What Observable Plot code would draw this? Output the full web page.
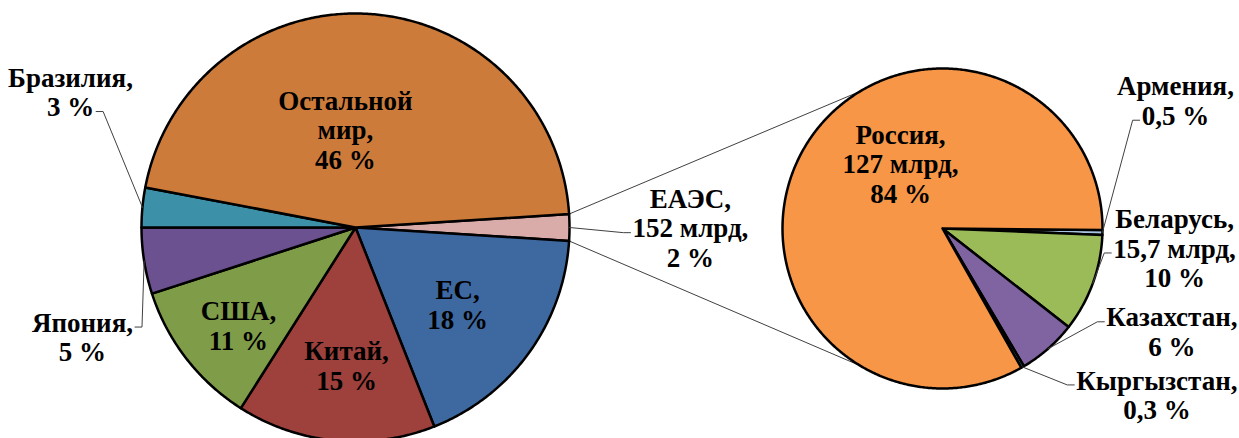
<!DOCTYPE html>
<html><head><meta charset="utf-8">
<script src="https://cdn.jsdelivr.net/npm/d3@7"></script>
<script src="https://cdn.jsdelivr.net/npm/@observablehq/plot@0.6"></script>
<style>
html,body{margin:0;padding:0;background:#fff;}
#chart{width:1239px;height:438px;}
#chart svg text{font-family:"Liberation Serif","Times New Roman",serif !important;font-weight:bold;}
</style>
</head><body><div id="chart"></div>
<script>
// ---- data ----
const worldNames  = ["ЕАЭС", "ЕС", "Китай", "США", "Япония", "Бразилия", "Остальной мир"];
const worldShares = [2, 18, 15, 11, 5, 3, 46];
const worldLabels = ["ЕАЭС,\n152 млрд,\n2 %", "ЕС,\n18 %", "Китай,\n15 %", "США,\n11 %", "Япония,\n5 %", "Бразилия,\n3 %", "Остальной\nмир,\n46 %"];
const worldColors = ["#D9ABA9", "#3E69A0", "#9E403C", "#7F9D48", "#6B518F", "#3C91A8", "#CD7B3B"];

const eaeuNames  = ["Армения", "Беларусь", "Казахстан", "Кыргызстан", "Россия"];
const eaeuShares = [0.5, 10, 6, 0.3, 84];
const eaeuLabels = ["Армения,\n0,5 %", "Беларусь,\n15,7 млрд,\n10 %", "Казахстан,\n6 %", "Кыргызстан,\n0,3 %", "Россия,\n127 млрд,\n84 %"];
const eaeuColors = ["#A9C4E0", "#9BBB59", "#8064A2", "#4BACC6", "#F79646"];

// ---- layout / style ----
const W = 1239, H = 438;
const FONT = "Liberation Serif", FONT_SIZE = 27, LINE_H = 29.5;
const mainPie = {cx: 355, cy: 227, r: 214};
const subPie  = {cx: 942, cy: 228, r: 160};
// label placement relative to slice: radius factor k, angle shift d (deg), optional leader {side, line}
const worldPlace = [
  {k: 1.565, d: 0.2, leader: {side: "left", line: 1}},
  {k: 0.60, d: 1.4},
  {k: 0.651, d: -1.7},
  {k: 0.716, d: -2.4},
  {k: 1.376, d: -13, leader: {side: "right", line: 0}},
  {k: 1.473, d: 19.9, leader: {side: "right", line: 1}},
  {k: 0.456, d: -9.5}
];
const eaeuPlace = [
  {k: 1.658, d: -30, leader: {side: "left", line: 1}},
  {k: 1.456, d: -15.1, leader: {side: "left", line: 1}},
  {k: 1.595, d: -24.65, leader: {side: "left", line: 0}},
  {k: 1.71, d: -22.3, leader: {side: "left", line: 0}},
  {k: 0.478, d: 26.2}
];
const connectorSubAngle = 121; // deg, where the connector lines meet the secondary pie

const rad = a => a * Math.PI / 180;
const pt = (pie, a, k = 1) => ({x: pie.cx + k * pie.r * Math.cos(rad(a)), y: pie.cy + k * pie.r * Math.sin(rad(a))});

function layout(names, values, labels, colors, places, pie, start) {
  const total = d3.sum(values);
  let a = start;
  return names.map((n, i) => {
    const span = values[i] / total * 360;
    const s = {name: n, label: labels[i], color: colors[i], place: places[i], pie, a0: a, a1: a + span, mid: a + span / 2};
    a += span;
    return s;
  });
}
const mainSlices = layout(worldNames, worldShares, worldLabels, worldColors, worldPlace, mainPie,
  -worldShares[0] / d3.sum(worldShares) * 180);
const subSlices = layout(eaeuNames, eaeuShares, eaeuLabels, eaeuColors, eaeuPlace, subPie, 0.5);
const slices = [...mainSlices, ...subSlices];

// slice polygons
const polys = [];
for (const s of slices) {
  const c = {key: s.name, x: s.pie.cx, y: s.pie.cy};
  polys.push(c);
  const n = Math.max(2, Math.ceil((s.a1 - s.a0) / 0.5));
  for (let j = 0; j <= n; j++) {
    const p = pt(s.pie, s.a0 + (s.a1 - s.a0) * j / n);
    polys.push({key: s.name, x: p.x, y: p.y});
  }
  polys.push({...c});
}

// text width measurement
const ctx = document.createElement("canvas").getContext("2d");
ctx.font = `bold ${FONT_SIZE}px "${FONT}"`;
const textWidth = t => ctx.measureText(t).width;

// one text row per label line
const labelLines = [];
const leaders = [];
for (const s of slices) {
  const p = pt(s.pie, s.mid + s.place.d, s.place.k);
  const lines = s.label.split("\n");
  const maxW = d3.max(lines, textWidth);
  const cx = Math.min(Math.max(p.x, maxW / 2 + 2), W - maxW / 2 - 2);
  lines.forEach((t, i) => labelLines.push({key: s.name, text: t, x: cx, y: p.y + (i - (lines.length - 1) / 2) * LINE_H}));
  const ld = s.place.leader;
  if (ld) {
    const ly = p.y + (ld.line - (lines.length - 1) / 2) * LINE_H + 4;
    const w = textWidth(lines[ld.line]);
    const sign = ld.side === "left" ? -1 : 1;
    const ax = cx + sign * (w / 2 + 2);
    const bx = ax + sign * 7;
    const a = pt(s.pie, s.mid);
    leaders.push({key: s.name, x: a.x, y: a.y}, {key: s.name, x: bx, y: ly}, {key: s.name, x: ax, y: ly});
  }
}

// connectors between the pies
const eaeu = mainSlices[0];
const connectors = [
  {key: "top", ...pt(mainPie, eaeu.a0)}, {key: "top", ...pt(subPie, -connectorSubAngle)},
  {key: "bot", ...pt(mainPie, eaeu.a1)}, {key: "bot", ...pt(subPie, connectorSubAngle)}
];

const chart = Plot.plot({
  width: W, height: H, margin: 0,
  x: {domain: [0, W], range: [0, W], axis: null},
  y: {domain: [0, H], range: [0, H], axis: null},
  color: {domain: slices.map(s => s.name), range: slices.map(s => s.color)},
  style: {background: "#fff", fontFamily: FONT},
  marks: [
    Plot.line(connectors, {x: "x", y: "y", z: "key", stroke: "#404040", strokeWidth: 1}),
    Plot.line(polys, {x: "x", y: "y", z: "key", fill: "key", stroke: "#000", strokeWidth: 2.5, strokeLinejoin: "round"}),
    Plot.line(leaders, {x: "x", y: "y", z: "key", stroke: "#404040", strokeWidth: 1}),
    Plot.text(labelLines, {x: "x", y: "y", text: "text", fontFamily: FONT, fontWeight: "bold", fontSize: FONT_SIZE,
      textAnchor: "middle", fill: "#000"})
  ]
});
d3.select(chart).selectAll("text").attr("font-family", FONT).style("font-family", FONT);
document.getElementById("chart").appendChild(chart);
</script>
</body></html>
